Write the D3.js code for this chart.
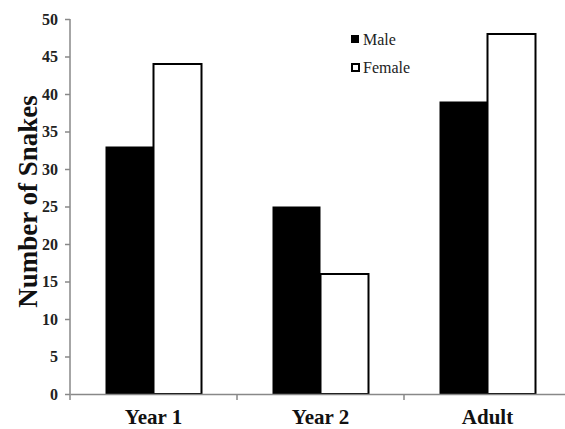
<!DOCTYPE html>
<html>
<head>
<meta charset="utf-8">
<script src="https://cdn.jsdelivr.net/npm/d3@7"></script>
<style>
  body { margin: 0; background: #fff; }
  text { font-family: "Liberation Serif", "Times New Roman", serif; }
</style>
</head>
<body>
<div id="chart"></div>
<script>
const categories = ["Year 1", "Year 2", "Adult"];
const seriesNames = ["Male", "Female"];
const maleValues = [33, 25, 39];
const femaleValues = [44, 16, 48];
const yTicks = [0, 5, 10, 15, 20, 25, 30, 35, 40, 45, 50];

const W = 565, H = 429;
const serif = "'Liberation Serif', 'Times New Roman', serif";

const svg = d3.select("#chart").append("svg")
    .attr("width", W)
    .attr("height", H);

const x = d3.scaleBand().domain(categories).range([70, 571]);
const inner = d3.scaleBand().domain(seriesNames).range([0, 96]);
const y = d3.scaleLinear().domain([0, 50]).range([394, 19]);

const rows = categories.map((c, i) => ({ cat: c, Male: maleValues[i], Female: femaleValues[i] }));

// bars
const groups = svg.append("g").selectAll("g")
    .data(rows)
    .join("g")
    .attr("transform", d => `translate(${x(d.cat) + (x.bandwidth() - 96) / 2}, 0)`);

groups.selectAll("rect")
    .data(d => seriesNames.map(s => ({ s: s, v: d[s] })))
    .join("rect")
    .attr("x", d => inner(d.s))
    .attr("y", d => y(d.v))
    .attr("width", inner.bandwidth())
    .attr("height", d => y(0) - y(d.v))
    .attr("fill", d => d.s === "Male" ? "#000" : "#fff")
    .attr("stroke", "#000")
    .attr("stroke-width", d => d.s === "Male" ? 0 : 2);

// y axis
const yAxis = svg.append("g")
    .attr("transform", "translate(70,0)")
    .call(d3.axisLeft(y).tickValues(yTicks).tickSize(5).tickPadding(7))
    .attr("font-family", serif);
yAxis.select(".domain").attr("stroke", "#888").attr("stroke-width", 1.5)
    .attr("d", `M0,${y(50)}V${y(0) + 6}`);
yAxis.selectAll(".tick line").attr("stroke", "#888").attr("stroke-width", 1.5);
yAxis.selectAll("text")
    .attr("font-size", 16)
    .attr("font-weight", "bold")
    .attr("fill", "#222");

// x axis
const xAxis = svg.append("g")
    .attr("transform", `translate(0, ${y(0)})`)
    .call(d3.axisBottom(x).tickSize(0).tickPadding(15))
    .attr("font-family", serif);
xAxis.select(".domain").attr("stroke", "#888").attr("stroke-width", 1.5);
xAxis.selectAll("text")
    .attr("font-size", 21)
    .attr("font-weight", "bold")
    .attr("fill", "#111");

// separators between categories
svg.append("g").selectAll("line")
    .data(categories.slice(1))
    .join("line")
    .attr("x1", d => x(d))
    .attr("x2", d => x(d))
    .attr("y1", y(0))
    .attr("y2", y(0) + 6)
    .attr("stroke", "#888")
    .attr("stroke-width", 1.5);

// y title
svg.append("text")
    .attr("transform", `translate(37, ${(y(0) + y(50)) / 2 - 5}) rotate(-90)`)
    .attr("text-anchor", "middle")
    .attr("font-size", 27)
    .attr("font-weight", "bold")
    .attr("fill", "#111")
    .text("Number of Snakes");

// legend
const legend = svg.append("g").attr("transform", "translate(351, 35)");
const li = legend.selectAll("g")
    .data(seriesNames)
    .join("g")
    .attr("transform", (d, i) => `translate(0, ${i * 28})`);
li.append("rect")
    .attr("x", d => d === "Male" ? 0 : 1)
    .attr("y", d => d === "Male" ? 0 : 1)
    .attr("width", d => d === "Male" ? 8 : 7)
    .attr("height", d => d === "Male" ? 8 : 7)
    .attr("fill", d => d === "Male" ? "#000" : "#fff")
    .attr("stroke", "#000")
    .attr("stroke-width", d => d === "Male" ? 0 : 2);
li.append("text")
    .attr("x", 12)
    .attr("y", 10)
    .attr("font-size", 16)
    .attr("fill", "#222")
    .text(d => d);
</script>
</body>
</html>
